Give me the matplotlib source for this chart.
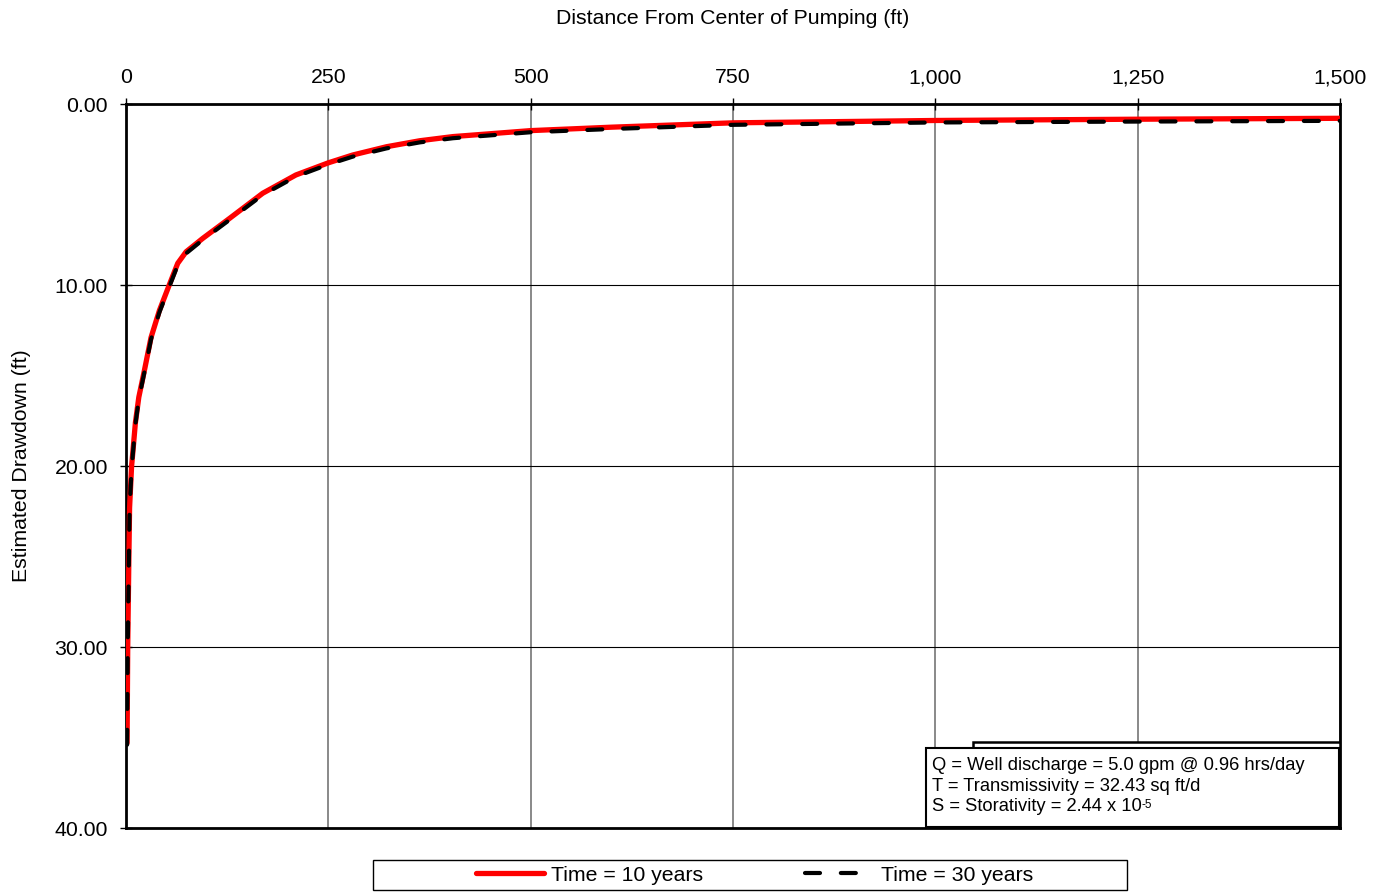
import matplotlib.pyplot as plt
from matplotlib.patches import Rectangle
from matplotlib.ticker import FuncFormatter

plt.rcParams["font.family"] = ["Liberation Sans", "DejaVu Sans"]

# distance from pumping well (ft) and estimated drawdown (ft)
distance = [1.4, 2.2, 3.5, 4.5, 7.0, 8.4, 11.7, 15.9, 22.9, 31, 41.4, 53.5, 64, 74.4,
            95, 128, 169, 210, 250, 280, 322, 363, 404, 445, 500, 600, 750, 1000,
            1250, 1500]
drawdown_10yr = [35.3, 30.0, 25.5, 22.3, 20.0, 19.3, 17.6, 16.2, 14.7, 12.9, 11.4, 10.0,
                 8.8, 8.16, 7.42, 6.32, 4.93, 3.92, 3.25, 2.82, 2.36, 2.03, 1.80, 1.66,
                 1.47, 1.28, 1.04, 0.91, 0.84, 0.79]
drawdown_30yr = [35.4, 30.1, 25.6, 22.4, 20.1, 19.4, 17.7, 16.3, 14.8, 13.0, 11.5, 10.1,
                 8.9, 8.25, 7.5, 6.4, 5.02, 4.01, 3.34, 2.91, 2.45, 2.12, 1.89, 1.75,
                 1.56, 1.38, 1.15, 1.02, 0.97, 0.93]

x_ticks = [0, 250, 500, 750, 1000, 1250, 1500]
y_ticks = [0, 10, 20, 30, 40]

param_lines = ["Q = Well discharge = 5.0 gpm @ 0.96 hrs/day",
               "T = Transmissivity = 32.43 sq ft/d",
               "S = Storativity = 2.44 x 10"]

fig = plt.figure(figsize=(13.87, 8.92), dpi=100)
ax = fig.add_axes([0.0908, 0.0717, 0.8753, 0.8117])

ax.plot(distance, drawdown_10yr, color="red", lw=3.8, solid_capstyle="round",
        label="Time = 10 years", zorder=3)
ax.plot(distance, drawdown_30yr, color="black", lw=3.0, dashes=(3.6, 5.0),
        dash_capstyle="round", label="Time = 30 years", zorder=4)

ax.set_xlim(0, 1500)
ax.set_ylim(40, 0)
ax.set_xticks(x_ticks)
ax.set_yticks(y_ticks)
ax.xaxis.set_major_formatter(FuncFormatter(lambda v, p: f"{v:,.0f}"))
ax.yaxis.set_major_formatter(FuncFormatter(lambda v, p: f"{v:.2f}"))
ax.xaxis.tick_top()
ax.xaxis.set_label_position("top")
ax.tick_params(axis="both", labelsize=15.3, direction="inout", length=8, width=1)
ax.tick_params(axis="x", pad=8)
ax.tick_params(axis="y", pad=9)

ax.xaxis.grid(True, color="#808080", lw=1.3)
ax.yaxis.grid(True, color="black", lw=0.8)
ax.set_axisbelow(True)
for s in ax.spines.values():
    s.set_linewidth(2)

ax.set_xlabel("Distance From Center of Pumping (ft)", fontsize=15.3, labelpad=32)
ax.set_ylabel("Estimated Drawdown (ft)", fontsize=15.3, labelpad=17)

# parameter box with a second box behind it
ax.add_patch(Rectangle((0.6976, 0.002), 0.3024, 0.1168, transform=ax.transAxes,
                       facecolor="white", edgecolor="black", lw=1.8, zorder=5))
ax.add_patch(Rectangle((0.659, 0.002), 0.3405, 0.1085, transform=ax.transAxes,
                       facecolor="white", edgecolor="black", lw=1.5, zorder=6))
for line, yy in zip(param_lines, [0.087, 0.058, 0.030]):
    t = ax.text(0.6638, yy, line, transform=ax.transAxes, fontsize=13.2,
                va="center", ha="left", zorder=7)
ax.annotate("-5", xy=(1.0, 0.95), xycoords=t, fontsize=8.5, va="top", ha="left",
            zorder=7)

# legend with its own frame below the plot
fig.add_artist(Rectangle((0.2689, 0.0022), 0.5436, 0.0337, transform=fig.transFigure,
                         facecolor="white", edgecolor="black", lw=1))
fig.legend(loc="center", bbox_to_anchor=(0.544, 0.019), ncol=2, fontsize=15.3,
           frameon=False, handlelength=3.2, handletextpad=0.35, columnspacing=4.8)

fig.savefig("out.png", dpi=100)
